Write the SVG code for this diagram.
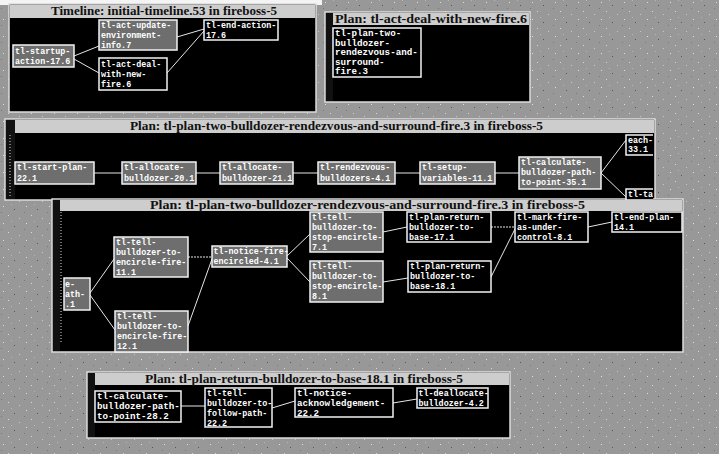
<svg xmlns="http://www.w3.org/2000/svg" width="719" height="454" viewBox="0 0 719 454">
<defs>
<pattern id="noise" width="23" height="17" patternUnits="userSpaceOnUse">
<rect width="23" height="17" fill="#989898"/>
<rect x="3" y="2" width="1" height="1" fill="#e0e0e0"/>
<rect x="14" y="5" width="1" height="1" fill="#555"/>
<rect x="8" y="11" width="1" height="1" fill="#d8d8d8"/>
<rect x="19" y="14" width="1" height="1" fill="#c8c8c8"/>
<rect x="1" y="8" width="1" height="1" fill="#777"/>
<rect x="11" y="0" width="1" height="1" fill="#b8b8b8"/>
</pattern>
<clipPath id="clip3"><rect x="5" y="119" width="648" height="81"/></clipPath>
<style>
.win{fill:#000;stroke:#dcdcdc;stroke-width:1.5}
.bar{fill:#cdcdcd}
.strip{fill:#111}
.n{fill:#000;stroke:#f2f2f2;stroke-width:1.5}
.g{fill:#6e6e6e;stroke:#f2f2f2;stroke-width:1.5}
.t{font-family:"Liberation Mono","DejaVu Sans Mono",monospace;font-weight:bold;font-size:8.4px;fill:#fff}
.b{font-size:9.2px}
.ttl{font-family:"Liberation Serif","DejaVu Serif",serif;font-weight:bold;font-size:11.5px;fill:#111}
.c{stroke:#e6e6e6;stroke-width:1;fill:none}
</style>
</defs>
<rect width="719" height="454" fill="url(#noise)"/>
<rect x="0" y="0" width="322" height="5" fill="#f4f4f4"/>

<!-- Window 1 -->
<g id="win1">
<rect class="win" x="9" y="4" width="307" height="108"/>
<rect class="bar" x="10" y="5" width="305" height="13"/>
<text class="ttl" x="164" y="15" text-anchor="middle" textLength="226" lengthAdjust="spacingAndGlyphs">Timeline: initial-timeline.53 in fireboss-5</text>
</g>
<!-- Window 2 -->
<g id="win2">
<rect class="win" x="325" y="12" width="205" height="90"/>
<rect class="bar" x="333" y="13" width="196" height="12"/>
<rect class="strip" x="326" y="13" width="7" height="88"/>
<text class="ttl" x="335" y="23" textLength="192" lengthAdjust="spacingAndGlyphs">Plan: tl-act-deal-with-new-fire.6</text>
</g>
<!-- Window 3 -->
<g id="win3">
<rect class="win" x="5" y="119" width="650" height="81"/>
<rect class="bar" x="15" y="120" width="639" height="13"/>
<rect class="strip" x="6" y="120" width="9" height="79"/>
<line x1="10" y1="135" x2="10" y2="196" stroke="#ddd" stroke-width="1" stroke-dasharray="1 2"/>
<text class="ttl" x="130" y="130" textLength="413" lengthAdjust="spacingAndGlyphs">Plan: tl-plan-two-bulldozer-rendezvous-and-surround-fire.3 in fireboss-5</text>
</g>
<!-- Window 4 -->
<g id="win4">
<rect class="win" x="52" y="199" width="631" height="153"/>
<rect class="bar" x="60" y="200" width="622" height="11"/>
<rect class="strip" x="53" y="200" width="7" height="151"/>
<line x1="61" y1="212" x2="61" y2="342" stroke="#ddd" stroke-width="1" stroke-dasharray="1 2"/>
<text class="ttl" x="150" y="209" textLength="435" lengthAdjust="spacingAndGlyphs">Plan: tl-plan-two-bulldozer-rendezvous-and-surround-fire.3 in fireboss-5</text>
</g>
<!-- Window 5 -->
<g id="win5">
<rect class="win" x="87" y="372" width="423" height="66"/>
<rect class="bar" x="95" y="373" width="414" height="12"/>
<rect class="strip" x="88" y="373" width="7" height="64"/>
<text class="ttl" x="145" y="383" textLength="318" lengthAdjust="spacingAndGlyphs">Plan: tl-plan-return-bulldozer-to-base-18.1 in fireboss-5</text>
</g>

<g id="connectors">
<!-- window 1 -->
<line class="c" x1="74" y1="56" x2="99" y2="46"/>
<line class="c" x1="74" y1="59" x2="99" y2="73"/>
<line class="c" x1="177" y1="37" x2="204" y2="29"/>
<line class="c" x1="167" y1="73" x2="204" y2="31"/>
<!-- window 3 -->
<line class="c" x1="94" y1="173" x2="122" y2="173"/>
<line class="c" x1="196" y1="173" x2="220" y2="173"/>
<line class="c" x1="293" y1="173" x2="318" y2="173"/>
<line class="c" x1="395" y1="173" x2="420" y2="173"/>
<line class="c" x1="495" y1="173" x2="519" y2="173"/>
<line class="c" x1="601" y1="173" x2="626" y2="140"/>
<line class="c" x1="601" y1="173" x2="626" y2="197"/>
<!-- window 4 -->
<line class="c" x1="90" y1="293" x2="114" y2="259"/>
<line class="c" x1="90" y1="295" x2="115" y2="330"/>
<line class="c" x1="188" y1="257" x2="212" y2="257" stroke-dasharray="2 1"/>
<line class="c" x1="188" y1="326" x2="212" y2="259"/>
<line class="c" x1="287" y1="256" x2="310" y2="234"/>
<line class="c" x1="287" y1="258" x2="310" y2="282"/>
<line class="c" x1="383" y1="232" x2="407" y2="227"/>
<line class="c" x1="383" y1="282" x2="408" y2="278"/>
<line class="c" x1="491" y1="227" x2="515" y2="227" stroke-dasharray="2 1"/>
<line class="c" x1="491" y1="277" x2="515" y2="229"/>
<line class="c" x1="588" y1="227" x2="612" y2="222"/>
<!-- window 5 -->
<line class="c" x1="181" y1="406" x2="205" y2="406"/>
<line class="c" x1="272" y1="408" x2="295" y2="401"/>
<line class="c" x1="393" y1="403" x2="417" y2="399"/>
</g>

<!-- Window 1 nodes -->
<g id="n-startup"><rect class="g" x="13" y="45" width="61" height="22"/>
<text class="t" x="15" y="54">tl-startup-</text><text class="t" x="15" y="64">action-17.6</text></g>
<g id="n-update"><rect class="g" x="99" y="20" width="78" height="30"/>
<text class="t" x="101" y="28">tl-act-update-</text><text class="t" x="101" y="38">environment-</text><text class="t" x="101" y="48">info.7</text></g>
<g id="n-endaction"><rect class="n" x="204" y="20" width="74" height="20"/>
<text class="t" x="206" y="28">tl-end-action-</text><text class="t" x="206" y="38">17.6</text></g>
<g id="n-deal"><rect class="n" x="99" y="58" width="68" height="32"/>
<text class="t" x="101" y="67">tl-act-deal-</text><text class="t" x="101" y="77">with-new-</text><text class="t" x="101" y="87">fire.6</text></g>

<!-- Window 2 node -->
<g id="n-plan2"><rect class="n" x="333" y="28" width="88" height="49"/>
<text class="t b" x="335" y="36">tl-plan-two-</text><text class="t b" x="335" y="45.5">bulldozer-</text><text class="t b" x="335" y="55">rendezvous-and-</text><text class="t b" x="335" y="64.5">surround-</text><text class="t b" x="335" y="74">fire.3</text></g>

<!-- Window 3 nodes -->
<g id="n-startplan"><rect class="g" x="15" y="162" width="79" height="22"/>
<text class="t" x="17" y="170">tl-start-plan-</text><text class="t" x="17" y="181">22.1</text></g>
<g id="n-alloc20"><rect class="g" x="122" y="162" width="74" height="22"/>
<text class="t" x="124" y="170">tl-allocate-</text><text class="t" x="124" y="181">bulldozer-20.1</text></g>
<g id="n-alloc21"><rect class="g" x="220" y="162" width="73" height="22"/>
<text class="t" x="222" y="170">tl-allocate-</text><text class="t" x="222" y="181">bulldozer-21.1</text></g>
<g id="n-rendez"><rect class="g" x="318" y="162" width="77" height="22"/>
<text class="t" x="320" y="170">tl-rendezvous-</text><text class="t" x="320" y="181">bulldozers-4.1</text></g>
<g id="n-setup"><rect class="g" x="420" y="162" width="75" height="22"/>
<text class="t" x="422" y="170">tl-setup-</text><text class="t" x="422" y="181">variables-11.1</text></g>
<g id="n-calc35"><rect class="g" x="519" y="157" width="82" height="32"/>
<text class="t" x="521" y="165">tl-calculate-</text><text class="t" x="521" y="175">bulldozer-path-</text><text class="t" x="521" y="185">to-point-35.1</text></g>
<g clip-path="url(#clip3)">
<g id="n-each33"><rect class="n" x="626" y="135" width="28" height="20"/>
<text class="t" x="628" y="143">each-</text><text class="t" x="628" y="152">33.1</text></g>
<g id="n-partial3"><rect class="n" x="626" y="189" width="28" height="11"/>
<text class="t" x="628" y="197">tl-ta</text></g>
</g>

<!-- Window 4 nodes -->
<g id="n-path"><rect class="g" x="64" y="278" width="26" height="32"/>
<text class="t" x="65" y="287">e-</text><text class="t" x="65" y="297">ath-</text><text class="t" x="65" y="307">.1</text></g>
<g id="n-tell11"><rect class="g" x="114" y="237" width="74" height="40"/>
<text class="t" x="116" y="245">tl-tell-</text><text class="t" x="116" y="255">bulldozer-to-</text><text class="t" x="116" y="265">encircle-fire-</text><text class="t" x="116" y="275">11.1</text></g>
<g id="n-tell12"><rect class="g" x="115" y="311" width="73" height="41"/>
<text class="t" x="117" y="319">tl-tell-</text><text class="t" x="117" y="329">bulldozer-to-</text><text class="t" x="117" y="339">encircle-fire-</text><text class="t" x="117" y="349">12.1</text></g>
<g id="n-notice41"><rect class="g" x="212" y="246" width="75" height="21"/>
<text class="t" x="213.5" y="254">tl-notice-fire-</text><text class="t" x="213.5" y="264">encircled-4.1</text></g>
<g id="n-stop7"><rect class="g" x="310" y="212" width="73" height="40"/>
<text class="t" x="312" y="220">tl-tell-</text><text class="t" x="312" y="230">bulldozer-to-</text><text class="t" x="312" y="240">stop-encircle-</text><text class="t" x="312" y="250">7.1</text></g>
<g id="n-stop8"><rect class="g" x="310" y="261" width="73" height="41"/>
<text class="t" x="312" y="269">tl-tell-</text><text class="t" x="312" y="279">bulldozer-to-</text><text class="t" x="312" y="289">stop-encircle-</text><text class="t" x="312" y="299">8.1</text></g>
<g id="n-ret17"><rect class="n" x="407" y="212" width="84" height="30"/>
<text class="t" x="409" y="220">tl-plan-return-</text><text class="t" x="409" y="230">bulldozer-to-</text><text class="t" x="409" y="240">base-17.1</text></g>
<g id="n-ret18"><rect class="n" x="408" y="261" width="83" height="31"/>
<text class="t" x="410" y="269">tl-plan-return-</text><text class="t" x="410" y="279">bulldozer-to-</text><text class="t" x="410" y="289">base-18.1</text></g>
<g id="n-mark"><rect class="n" x="515" y="212" width="73" height="30"/>
<text class="t" x="517" y="220">tl-mark-fire-</text><text class="t" x="517" y="230">as-under-</text><text class="t" x="517" y="240">control-8.1</text></g>
<g id="n-endplan"><rect class="n" x="612" y="212" width="70" height="20"/>
<text class="t" x="614" y="220">tl-end-plan-</text><text class="t" x="614" y="230">14.1</text></g>

<!-- Window 5 nodes -->
<g id="n-calc28"><rect class="n" x="95" y="391" width="86" height="31"/>
<text class="t b" x="97" y="399">tl-calculate-</text><text class="t b" x="97" y="409">bulldozer-path-</text><text class="t b" x="97" y="419">to-point-28.2</text></g>
<g id="n-follow"><rect class="n" x="205" y="388" width="67" height="39"/>
<text class="t" x="207" y="396">tl-tell-</text><text class="t" x="207" y="406">bulldozer-to-</text><text class="t" x="207" y="416">follow-path-</text><text class="t" x="207" y="426">22.2</text></g>
<g id="n-ack"><rect class="n" x="295" y="388" width="98" height="29"/>
<text class="t b" x="297" y="396">tl-notice-</text><text class="t b" x="297" y="406">acknowledgement-</text><text class="t b" x="297" y="416">22.2</text></g>
<g id="n-dealloc"><rect class="n" x="417" y="388" width="71" height="20"/>
<text class="t" x="418.5" y="396">tl-deallocate-</text><text class="t" x="418.5" y="406">bulldozer-4.2</text></g>
</svg>
